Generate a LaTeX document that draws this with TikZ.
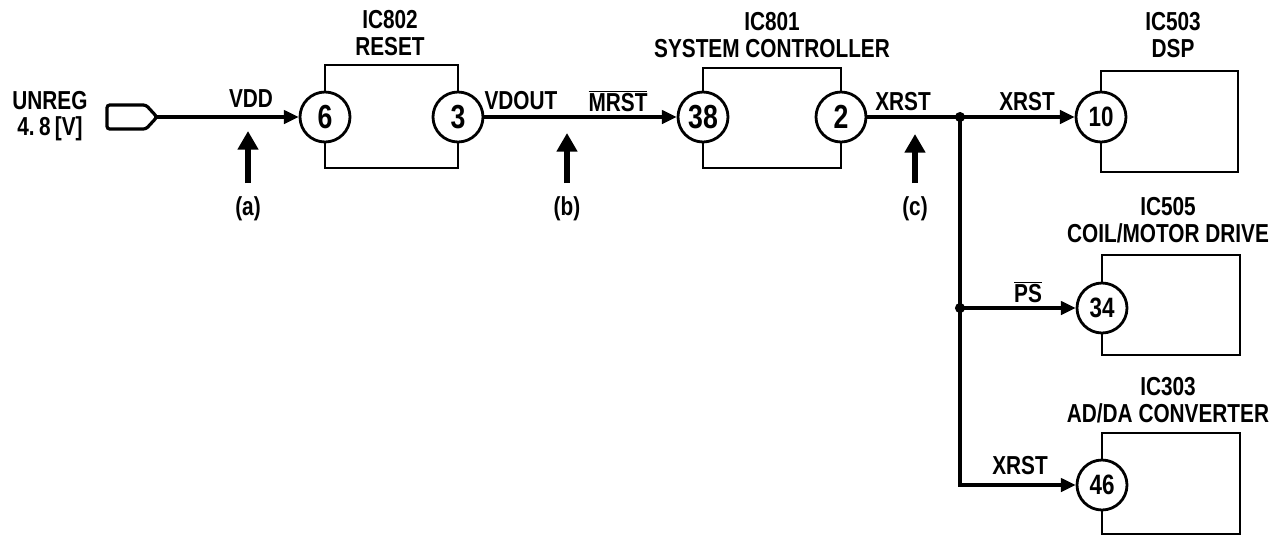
\documentclass[tikz,border=0pt]{standalone}
\usepackage{fontspec}
\setmainfont{Liberation Sans}[FakeStretch=0.8]
\usetikzlibrary{arrows.meta,fit}
\newcommand\ovl[1]{\ensuremath{\overline{\mbox{#1}}}}
\begin{document}
\begin{tikzpicture}[x=0.75pt,y=-0.75pt,
 lab/.style={font=\fontsize{19.5}{20}\selectfont\bfseries, inner sep=0pt, align=center},
 pinbig/.style={circle, draw, fill=white, line width=2.1pt, minimum size=37.5pt, inner sep=0pt, font=\fontsize{25}{25}\selectfont\bfseries},
 pinsm/.style={pinbig, font=\fontsize{21}{21}\selectfont\bfseries},
 icbox/.style={draw, line width=2.1pt, inner sep=0pt},
 wire/.style={line width=2.4pt},
 sig/.style={wire, -{Triangle[length=11pt,width=10pt]}},
 probe/.style={line width=5pt, -{Triangle[length=14pt,width=15pt]}},
 dot/.style={circle, fill, inner sep=0pt, minimum size=8pt}
]
\useasboundingbox (0,0) rectangle (1286,537);

% input connector
\node[lab] (unreg) at (50,116) {UNREG\\4.\,8\,[V]};
\coordinate (k1) at (107,105);
\coordinate (k2) at (146,105);
\coordinate (ctip) at (157,117);
\coordinate (k3) at (146,129);
\coordinate (k4) at (107,129);
\draw[wire, rounded corners=2pt] (k1) -- (k2) -- (ctip) -- (k3) -- (k4) -- cycle;

% IC boxes
\coordinate (b1a) at (325,65);  \coordinate (b1b) at (458,168);
\coordinate (b2a) at (703,68);  \coordinate (b2b) at (841,168);
\coordinate (b3a) at (1101,71); \coordinate (b3b) at (1238,172);
\coordinate (b4a) at (1102,255); \coordinate (b4b) at (1240,355);
\coordinate (b5a) at (1102,433); \coordinate (b5b) at (1240,534);
\node[icbox, fit=(b1a)(b1b)] (ic802) {};
\node[icbox, fit=(b2a)(b2b)] (ic801) {};
\node[icbox, fit=(b3a)(b3b)] (ic503) {};
\node[icbox, fit=(b4a)(b4b)] (ic505) {};
\node[icbox, fit=(b5a)(b5b)] (ic303) {};

% IC titles
\node[lab] (t802) at (390,33) {IC802\\RESET};
\node[lab] (t801) at (772,35) {IC801\\SYSTEM CONTROLLER};
\node[lab] (t503) at (1173,35) {IC503\\DSP};
\node[lab] (t505) at (1168,220) {IC505\\COIL/MOTOR DRIVE};
\node[lab] (t303) at (1168,400) {IC303\\AD/DA CONVERTER};

% pins
\node[pinbig] (p6) at (325,117) {6};
\node[pinbig] (p3) at (458,117) {3};
\node[pinbig] (p38) at (703,117) {38};
\node[pinbig] (p2) at (841,117) {2};
\node[pinsm] (p10) at (1101,117) {10};
\node[pinsm] (p34) at (1102,308) {34};
\node[pinsm] (p46) at (1102,485) {46};

% junctions
\coordinate (j1) at (960,117);
\coordinate (j2) at (960,308);

% wires
\draw[sig] (ctip) -- (p6.west);
\draw[sig] (p3.east) -- (p38.west);
\draw[wire] (p2.east) -- (j1);
\draw[sig] (j1) -- (p10.west);
\draw[sig] (j1) |- (p46.west);
\draw[sig] (j2) -- (p34.west);
\fill (j1) circle[radius=3.8pt];
\fill (j2) circle[radius=3.8pt];

% signal labels
\node[lab] (lvdd) at (251,99) {VDD};
\node[lab] (lvdout) at (521,101) {VDOUT};
\node[lab] (lmrst) at (618,101) {\ovl{MRST}};
\node[lab] (lx1) at (903,102) {XRST};
\node[lab] (lx2) at (1027,102) {XRST};
\node[lab] (lps) at (1028,292) {\ovl{PS}};
\node[lab] (lx3) at (1020,466) {XRST};

% probe points
\node[lab] (la) at (248,209) {(a)};
\node[lab] (lb) at (567,209) {(b)};
\node[lab] (lc) at (915,209) {(c)};
\coordinate (ha) at (248,131); \coordinate (ta) at (248,183);
\coordinate (hb) at (567,133); \coordinate (tb) at (567,183);
\coordinate (hc) at (915,134); \coordinate (tc) at (915,183);
\draw[probe] (ta) -- (ha);
\draw[probe] (tb) -- (hb);
\draw[probe] (tc) -- (hc);
\end{tikzpicture}
\end{document}
